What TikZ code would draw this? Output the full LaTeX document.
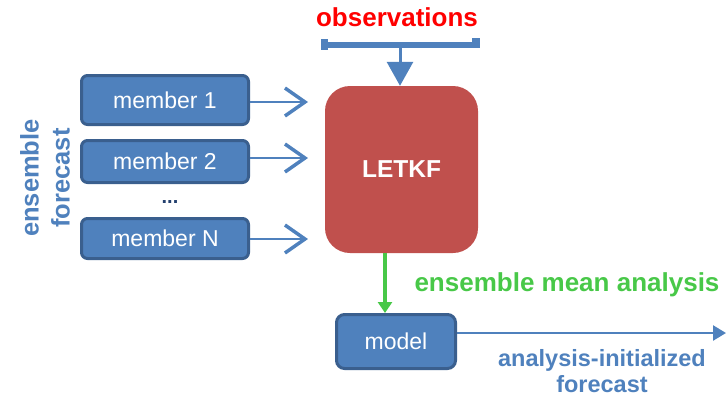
\documentclass[tikz,border=0pt]{standalone}
\usepackage{fontspec}
\setmainfont{Liberation Sans}
\usetikzlibrary{arrows.meta}
\definecolor{bfill}{HTML}{4F81BD}
\definecolor{bedge}{HTML}{3A5F8E}
\definecolor{lred}{HTML}{C0504D}
\definecolor{obsred}{HTML}{FF0000}
\definecolor{lgreen}{HTML}{48C848}
\definecolor{ddots}{HTML}{23406E}
\tikzset{
  memb/.style={draw=bedge, line width=3pt, fill=bfill, rounded corners=6pt, text=white,
    minimum width=167pt, font=\fontsize{23}{26}\selectfont, inner sep=0pt},
  inarrow/.style={draw=bfill, line width=2.5pt, -{Straight Barb[length=20pt,width=28pt,line width=3.5pt]}},
  btxt/.style={text=bfill, font=\bfseries\fontsize{24}{27}\selectfont, align=center},
}
\begin{document}
\begin{tikzpicture}[x=1pt,y=-1pt]
\useasboundingbox (0,0) rectangle (726,397);
% member boxes
\node[memb, minimum height=49pt] (m1) at (165,100) {member 1};
\node[memb, minimum height=42pt] (m2) at (165,161.5) {member 2};
\node[text=ddots, font=\bfseries\fontsize{20}{22}\selectfont] (dots) at (170,202) {...};
\node[memb, minimum height=40pt] (mN) at (165,238.5) {member N};
% LETKF
\node[fill=lred, rounded corners=25pt, minimum width=153pt, minimum height=167pt,
  text=white, font=\bfseries\fontsize{24.5}{27}\selectfont] (letkf) at (401.5,169.5) {LETKF};
\coordinate (tip) at (308,0);
\draw[inarrow] (m1.east |- 0,102) -- (tip |- 0,102);
\draw[inarrow] (m2.east |- 0,158) -- (tip |- 0,158);
\draw[inarrow] (mN.east |- 0,239) -- (tip |- 0,239);
% ensemble forecast label
\node[btxt, rotate=90, font=\bfseries\fontsize{25.5}{31}\selectfont] (ef) at (45,178) {ensemble\\forecast};
% observations
\node[text=obsred, font=\bfseries\fontsize{26}{28}\selectfont] (obs) at (397,17) {observations};
\fill[bfill] (321,41.5) rectangle (480,47.5);
\fill[bfill] (321,39) rectangle (328,50);
\fill[bfill] (472,38) rectangle (480,48);
\coordinate (obsbar) at (400,46);
\draw[bfill, line width=3pt, -{Triangle[length=24pt,width=26pt]}] (obsbar) -- (obsbar |- letkf.north);
% model
\node[memb, minimum width=119pt, minimum height=54pt, rounded corners=8pt, font=\fontsize{23}{26}\selectfont] (model) at (396,341.5) {model};
\coordinate (gstart) at (385,0);
\draw[lgreen, line width=4pt, -{Triangle[length=11pt,width=14pt]}] (gstart |- letkf.south) -- (gstart |- model.north);
\node[text=lgreen, font=\bfseries\fontsize{26}{28}\selectfont] (ema) at (567,285) {ensemble mean analysis};
\coordinate (out) at (726,333);
\draw[bfill, line width=2.5pt, -{Triangle[length=13pt,width=15pt]}] (model.east |- out) -- (out);
\node[btxt, font=\bfseries\fontsize{23.5}{26}\selectfont] (aif) at (602,371) {analysis-initialized\\forecast};
\end{tikzpicture}
\end{document}
